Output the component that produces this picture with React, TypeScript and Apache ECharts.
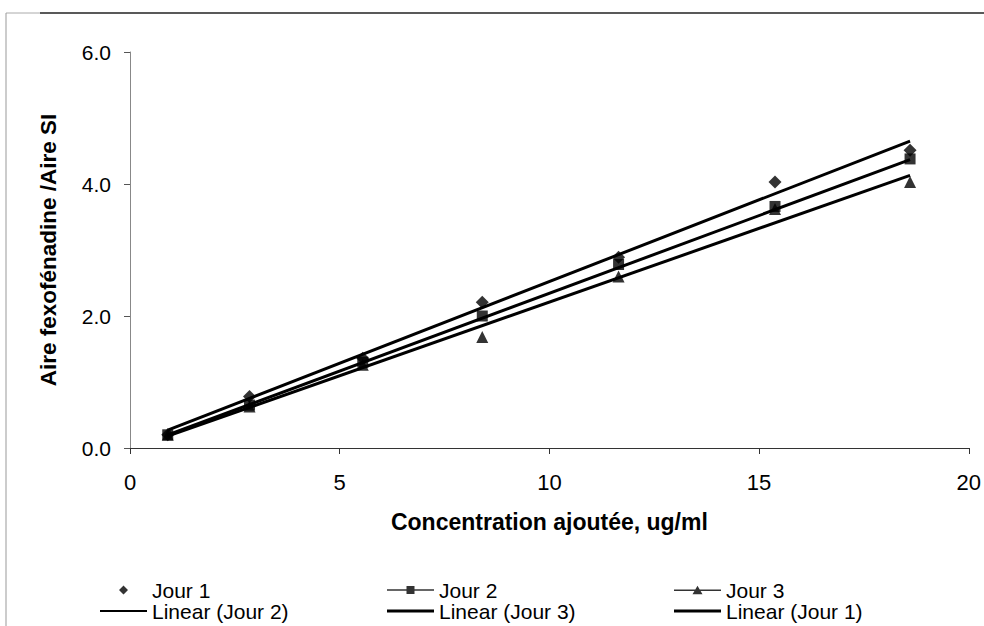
import React, { useEffect, useRef } from "react";
import * as echarts from "echarts";

// Concentration ajoutée (ug/ml)
const concentrations = [0.9, 2.85, 5.55, 8.4, 11.65, 15.38, 18.6];
// Aire fexofénadine / Aire SI
const jour1 = [0.2, 0.78, 1.36, 2.21, 2.89, 4.03, 4.51];
const jour2 = [0.2, 0.65, 1.3, 2.0, 2.78, 3.66, 4.38];
const jour3 = [0.2, 0.63, 1.26, 1.68, 2.6, 3.62, 4.03];
// Trend line end points (start x, end x)
const trendX = [0.9, 18.6];
const trendJour1 = [0.27, 4.65];
const trendJour2 = [0.2, 4.37];
const trendJour3 = [0.18, 4.13];

const FONT = "'Liberation Sans', Arial, sans-serif";

const pairs = (xs: number[], ys: number[]) => xs.map((x, i) => [x, ys[i]]);

export default function App() {
  const ref = useRef<HTMLDivElement>(null);
  useEffect(() => {
    if (!ref.current) return;
    const chart = echarts.init(ref.current, null, { renderer: "svg" });
    const legendBase = {
      orient: "horizontal",
      itemWidth: 47,
      itemHeight: 10,
      textStyle: { color: "#000", fontSize: 21, lineHeight: 22, fontFamily: FONT },
      selectedMode: false,
      padding: 0,
    };
    const iconJour1 = "path://M0,4.5L0.01,4.5L0,4.5z M23.5,0l4.5,4.5l-4.5,4.5l-4.5,-4.5z M46.99,4.5L47,4.5L46.99,4.5z";
    const iconJour2 = "path://M0,4.3h47v1.4h-47z M19.5,1h8v8h-8z";
    const iconJour3 = "path://M0,4.3h47v1.4h-47z M23.5,0.5l5,8.5h-10z";
    const row1 = 579;
    const row2 = 600;
    const col = [100, 387, 674];
    chart.setOption({
      animation: false,
      backgroundColor: "#fff",
      grid: { left: 130, right: 14, top: 52, bottom: 178 },
      xAxis: {
        type: "value",
        min: 0,
        max: 20,
        interval: 5,
        name: "Concentration ajoutée, ug/ml",
        nameLocation: "middle",
        nameGap: 62,
        nameTextStyle: { color: "#000", fontSize: 23, fontWeight: "bold", fontFamily: FONT },
        axisLine: { lineStyle: { color: "#333", width: 1.2 } },
        axisTick: { show: true, length: 6, lineStyle: { color: "#333" } },
        axisLabel: { color: "#000", fontSize: 22, fontFamily: FONT, margin: 23 },
        splitLine: { show: false },
      },
      yAxis: {
        type: "value",
        min: 0,
        max: 6,
        interval: 2,
        name: "Aire fexofénadine /Aire SI",
        nameLocation: "middle",
        nameGap: 70,
        nameTextStyle: { color: "#000", fontSize: 22.5, fontWeight: "bold", fontFamily: FONT },
        axisLine: { show: true, lineStyle: { color: "#888", width: 1 } },
        axisTick: { show: true, length: 6, lineStyle: { color: "#555" } },
        axisLabel: {
          color: "#000",
          fontSize: 21,
          fontFamily: FONT,
          margin: 19,
          formatter: (v: number) => v.toFixed(1),
        },
        splitLine: { show: false },
      },
      legend: [
        { ...legendBase, left: col[0], top: row1, itemHeight: 9, data: [{ name: "Jour 1", icon: iconJour1 }] },
        { ...legendBase, left: col[1], top: row1, data: [{ name: "Jour 2", icon: iconJour2 }] },
        { ...legendBase, left: col[2], top: row1, data: [{ name: "Jour 3", icon: iconJour3 }] },
        { ...legendBase, left: col[0], top: row2, itemHeight: 2, data: [{ name: "Linear (Jour 2)", icon: "rect" }] },
        { ...legendBase, left: col[1], top: row2, itemHeight: 3, data: [{ name: "Linear (Jour 3)", icon: "rect" }] },
        { ...legendBase, left: col[2], top: row2, itemHeight: 3, data: [{ name: "Linear (Jour 1)", icon: "rect" }] },
      ],
      graphic: [
        { type: "line", shape: { x1: 6, y1: 13, x2: 40, y2: 13 }, style: { stroke: "#aaa", lineWidth: 1 } },
        { type: "line", shape: { x1: 40, y1: 13, x2: 984, y2: 13 }, style: { stroke: "#222", lineWidth: 1.5 } },
        { type: "line", shape: { x1: 6, y1: 13, x2: 6, y2: 626 }, style: { stroke: "#999", lineWidth: 1 } },
      ],
      series: [
        {
          name: "Jour 1",
          type: "scatter",
          symbol: "diamond",
          symbolSize: 13,
          itemStyle: { color: "#000" },
          z: 3,
          data: pairs(concentrations, jour1),
        },
        {
          name: "Jour 2",
          type: "scatter",
          symbol: "rect",
          symbolSize: 11,
          itemStyle: { color: "#000" },
          z: 5,
          data: pairs(concentrations, jour2),
        },
        {
          name: "Jour 3",
          type: "scatter",
          symbol: "triangle",
          symbolSize: 12,
          itemStyle: { color: "#000" },
          z: 4,
          data: pairs(concentrations, jour3),
        },
        {
          name: "Linear (Jour 2)",
          type: "line",
          symbol: "none",
          lineStyle: { color: "#000", width: 3 },
          itemStyle: { color: "#000" },
          z: 2,
          data: pairs(trendX, trendJour2),
        },
        {
          name: "Linear (Jour 3)",
          type: "line",
          symbol: "none",
          lineStyle: { color: "#000", width: 3 },
          itemStyle: { color: "#000" },
          z: 2,
          data: pairs(trendX, trendJour3),
        },
        {
          name: "Linear (Jour 1)",
          type: "line",
          symbol: "none",
          lineStyle: { color: "#000", width: 3 },
          itemStyle: { color: "#000" },
          z: 2,
          data: pairs(trendX, trendJour1),
        },
      ],
    });
    return () => chart.dispose();
  }, []);
  return (
    <div
      ref={ref}
      style={{ position: "fixed", left: 0, top: 0, width: 984, height: 626, background: "#fff" }}
    />
  );
}
